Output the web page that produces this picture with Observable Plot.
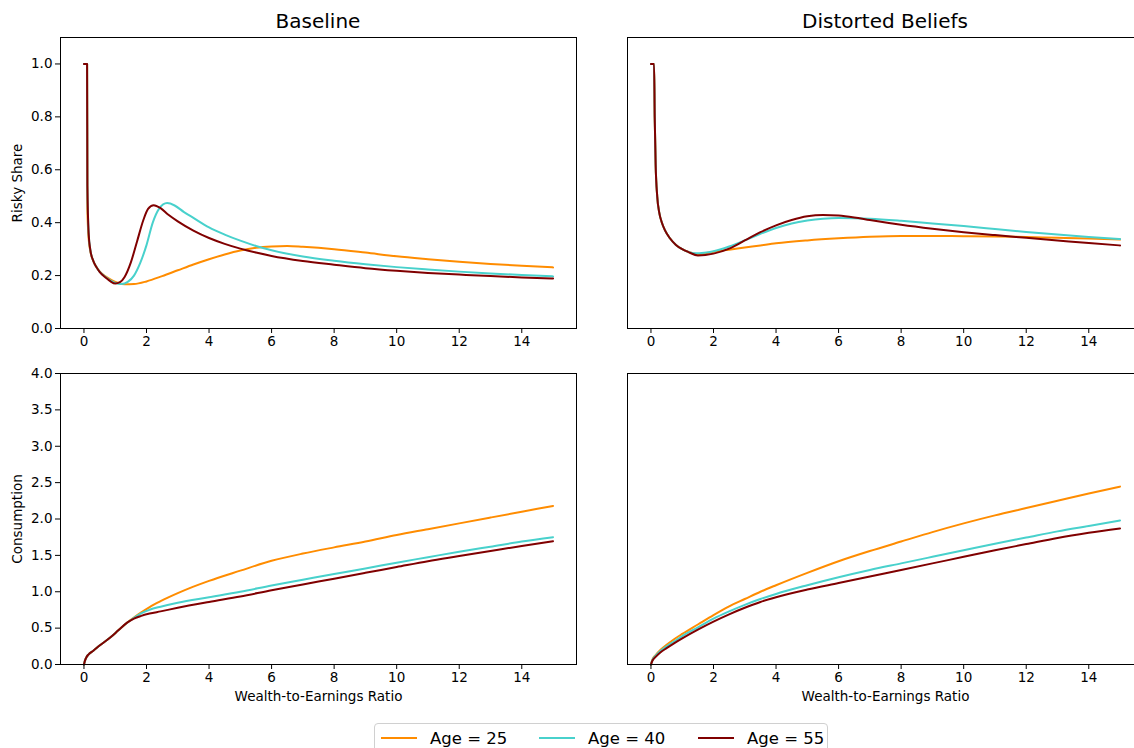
<!DOCTYPE html>
<html>
<head>
<meta charset="utf-8">
<script src="https://cdn.jsdelivr.net/npm/d3@7"></script>
<script src="https://cdn.jsdelivr.net/npm/@observablehq/plot@0.6"></script>
<style>
  html, body { margin: 0; padding: 0; background: #fff; }
  #fig { position: relative; width: 1134px; height: 748px; overflow: hidden; font-family: "DejaVu Sans", sans-serif; color: #000; }
  .panel { position: absolute; width: 600px; }
  .panel svg { max-width: none !important; }
  .title { position: absolute; font-size: 20px; transform: translateX(-50%); white-space: nowrap; }
  #legend { position: absolute; left: 374px; top: 723px; width: 454px; height: 34px; border: 1px solid #d0d0d0; border-radius: 4px; background: #fff; box-sizing: border-box; }
  .entry { position: absolute; top: 4px; display: flex; align-items: center; font-size: 16.5px; white-space: nowrap; }
  .entry svg { margin-right: 13px; }
</style>
</head>
<body>
<div id="fig"></div>
<script>
// ---------- data ----------
const ages = ["Age = 25", "Age = 40", "Age = 55"];
const colors = ["#ff8c00", "#48d1cc", "#800000"];
const titles = ["Baseline", "Distorted Beliefs"];
const xTicks = [0, 2, 4, 6, 8, 10, 12, 14];
const shareTicks = [0, 0.2, 0.4, 0.6, 0.8, 1.0];
const consTicks = [0, 0.5, 1.0, 1.5, 2.0, 2.5, 3.0, 3.5, 4.0];

// Baseline risky share
const baseShareStart = [[0, 1.0], [0.1, 1.0]];
const baseShare25 = [[0.11,0.45],[0.15,0.34],[0.2,0.295],[0.3,0.255],[0.4,0.232],[0.5,0.216],[0.7,0.196],[0.9,0.182],[1.1,0.172],[1.3,0.167],[1.6,0.168],[2,0.178],[2.5,0.198],[3,0.22],[3.5,0.242],[4,0.262],[4.5,0.28],[5,0.295],[5.5,0.305],[6,0.31],[6.5,0.312],[7,0.309],[8,0.3],[9,0.287],[10,0.273],[11,0.262],[12,0.252],[13,0.244],[14,0.237],[15,0.231]];
const baseShare40 = [[0.11,0.53],[0.15,0.36],[0.2,0.3],[0.3,0.255],[0.4,0.232],[0.5,0.215],[0.7,0.194],[0.9,0.178],[1.0,0.172],[1.2,0.168],[1.4,0.176],[1.6,0.2],[1.8,0.248],[2.0,0.315],[2.2,0.4],[2.4,0.452],[2.66,0.474],[2.9,0.465],[3.2,0.44],[3.5,0.418],[4,0.382],[4.5,0.355],[5,0.332],[5.5,0.312],[6,0.296],[7,0.272],[8,0.256],[9,0.243],[10,0.232],[11,0.223],[12,0.215],[13,0.208],[14,0.202],[15,0.197]];
const baseShare55 = [[0.11,0.54],[0.15,0.36],[0.2,0.3],[0.3,0.255],[0.4,0.232],[0.5,0.214],[0.7,0.192],[0.85,0.178],[1.0,0.17],[1.15,0.175],[1.3,0.195],[1.5,0.25],[1.7,0.33],[1.9,0.41],[2.05,0.452],[2.23,0.466],[2.45,0.455],[2.7,0.43],[3,0.405],[3.5,0.37],[4,0.342],[4.5,0.32],[5,0.302],[5.5,0.287],[6,0.274],[7,0.255],[8,0.241],[9,0.228],[10,0.218],[11,0.21],[12,0.204],[13,0.198],[14,0.193],[15,0.189]];

// Distorted beliefs risky share
const distShareStart = [[0,1.0],[0.1,1.0],[0.12,0.8],[0.15,0.62],[0.2,0.5],[0.27,0.435],[0.35,0.4],[0.45,0.371],[0.6,0.342],[0.8,0.316],[1.0,0.3],[1.2,0.289]];
const distShare25 = [[1.5,0.281],[2,0.29],[2.5,0.298],[3,0.306],[3.5,0.314],[4,0.322],[5,0.333],[6,0.341],[7,0.347],[8,0.35],[9,0.35],[10,0.349],[11,0.348],[12,0.346],[13,0.343],[14,0.34],[15,0.336]];
const distShare40 = [[1.4,0.284],[1.7,0.286],[2,0.292],[2.5,0.31],[3,0.333],[3.5,0.358],[4,0.38],[4.5,0.397],[5,0.408],[5.5,0.415],[6,0.418],[7,0.415],[8,0.407],[9,0.397],[10,0.387],[11,0.376],[12,0.365],[13,0.355],[14,0.346],[15,0.338]];
const distShare55 = [[1.5,0.276],[2,0.283],[2.5,0.302],[3,0.333],[3.5,0.364],[4,0.39],[4.5,0.41],[5,0.424],[5.5,0.429],[6,0.427],[6.5,0.42],[7,0.41],[8,0.392],[9,0.377],[10,0.364],[11,0.353],[12,0.343],[13,0.333],[14,0.323],[15,0.314]];

// Baseline consumption
const baseConsStart = [[0,0],[0.03,0.05],[0.08,0.1],[0.15,0.14],[0.3,0.19],[0.5,0.26],[0.85,0.375],[1.1,0.47],[1.38,0.575]];
const baseCons25 = [[1.6,0.645],[1.81,0.71],[2.1,0.79],[2.45,0.87],[3,0.98],[3.5,1.07],[4,1.15],[5,1.29],[6,1.425],[7,1.525],[8,1.61],[9,1.69],[10,1.78],[11,1.86],[12,1.94],[13,2.02],[14,2.1],[15,2.18]];
const baseCons40 = [[1.6,0.64],[1.81,0.7],[2.1,0.753],[2.45,0.795],[3,0.85],[4,0.925],[5,1.0],[6,1.085],[7,1.165],[8,1.245],[9,1.32],[10,1.4],[11,1.475],[12,1.55],[13,1.62],[14,1.69],[15,1.75]];
const baseCons55 = [[1.6,0.63],[1.81,0.665],[2.1,0.7],[2.45,0.73],[3,0.78],[4,0.86],[5,0.935],[6,1.02],[7,1.1],[8,1.18],[9,1.26],[10,1.34],[11,1.42],[12,1.49],[13,1.56],[14,1.63],[15,1.695]];

// Distorted beliefs consumption
const distCons25 = [[0,0],[0.05,0.07],[0.15,0.13],[0.3,0.2],[0.5,0.27],[0.75,0.35],[1,0.42],[1.5,0.55],[2,0.68],[2.5,0.8],[3,0.9],[3.5,1.0],[4,1.09],[5,1.26],[6,1.42],[7,1.56],[8,1.69],[9,1.82],[10,1.94],[11,2.05],[12,2.15],[13,2.25],[14,2.35],[15,2.445]];
const distCons40 = [[0,0],[0.05,0.065],[0.15,0.12],[0.3,0.185],[0.5,0.25],[0.75,0.32],[1,0.39],[1.5,0.51],[2,0.63],[2.5,0.73],[3,0.82],[3.5,0.9],[4,0.97],[5,1.09],[6,1.2],[7,1.3],[8,1.39],[9,1.48],[10,1.57],[11,1.66],[12,1.745],[13,1.83],[14,1.905],[15,1.98]];
const distCons55 = [[0,0],[0.05,0.055],[0.15,0.105],[0.3,0.165],[0.5,0.225],[0.75,0.295],[1,0.36],[1.5,0.48],[2,0.59],[2.5,0.69],[3,0.78],[3.5,0.86],[4,0.925],[5,1.03],[6,1.12],[7,1.21],[8,1.3],[9,1.39],[10,1.48],[11,1.57],[12,1.655],[13,1.74],[14,1.81],[15,1.87]];

// ---------- drawing ----------
const fig = document.getElementById("fig");

function rowsOf(seriesList) {
  return seriesList.flatMap((pts, i) => pts.map(([x, y]) => ({x, y, age: ages[i]})));
}

function panel({series, yDomain, yTicks, showY, yLabel, xLabel, left, top, height, marginBottom}) {
  const marks = [
    Plot.line(rowsOf(series), {x: "x", y: "y", z: "age", stroke: "age", strokeWidth: 2, curve: "monotone-x"}),
    Plot.axisX({ticks: xTicks, tickSize: 5, tickPadding: 3, tickFormat: d => String(d),
      label: xLabel, labelAnchor: "center", labelArrow: "none", labelOffset: 36}),
    Plot.frame({stroke: "#000", strokeWidth: 1})
  ];
  if (showY) {
    marks.push(Plot.axisY({ticks: yTicks, tickSize: 5, tickPadding: 3, tickFormat: d => d.toFixed(1),
      label: yLabel, labelAnchor: "center", labelArrow: "none", labelOffset: 48}));
  }
  const chart = Plot.plot({
    width: 600, height,
    marginLeft: 60, marginRight: 24, marginTop: 37, marginBottom,
    style: {fontFamily: "DejaVu Sans, sans-serif", fontSize: "13.5px", background: "transparent", color: "#000", overflow: "visible", maxWidth: "none"},
    x: {domain: [-0.75, 15.75], axis: null},
    y: {domain: yDomain, axis: null},
    color: {domain: ages, range: colors},
    marks
  });
  const d = document.createElement("div");
  d.className = "panel";
  d.style.left = left + "px";
  d.style.top = top + "px";
  d.appendChild(chart);
  fig.appendChild(d);
}

panel({series: [[...baseShareStart, ...baseShare25], [...baseShareStart, ...baseShare40], [...baseShareStart, ...baseShare55]],
  yDomain: [0, 1.1], yTicks: shareTicks, showY: true, yLabel: "Risky Share", xLabel: null, left: 0, top: 0, height: 353, marginBottom: 25});
panel({series: [[...distShareStart, ...distShare25], [...distShareStart, ...distShare40], [...distShareStart, ...distShare55]],
  yDomain: [0, 1.1], yTicks: shareTicks, showY: false, yLabel: null, xLabel: null, left: 567, top: 0, height: 353, marginBottom: 25});
panel({series: [[...baseConsStart, ...baseCons25], [...baseConsStart, ...baseCons40], [...baseConsStart, ...baseCons55]],
  yDomain: [0, 4], yTicks: consTicks, showY: true, yLabel: "Consumption", xLabel: "Wealth-to-Earnings Ratio", left: 0, top: 336, height: 374, marginBottom: 46});
panel({series: [distCons25, distCons40, distCons55],
  yDomain: [0, 4], yTicks: consTicks, showY: false, yLabel: null, xLabel: "Wealth-to-Earnings Ratio", left: 567, top: 336, height: 374, marginBottom: 46});

// titles
[[titles[0], 318], [titles[1], 885]].forEach(([t, cx]) => {
  const el = document.createElement("div");
  el.className = "title";
  el.textContent = t;
  el.style.left = cx + "px";
  el.style.top = "9px";
  fig.appendChild(el);
});

// legend
const legend = document.createElement("div");
legend.id = "legend";
const entryLeft = [6, 164, 323];
ages.forEach((a, i) => {
  const e = document.createElement("div");
  e.className = "entry";
  e.style.left = entryLeft[i] + "px";
  e.innerHTML = `<svg width="36" height="20"><line x1="0" x2="36" y1="10" y2="10" stroke="${colors[i]}" stroke-width="2"/></svg><span>${a}</span>`;
  legend.appendChild(e);
});
fig.appendChild(legend);
</script>
</body>
</html>
